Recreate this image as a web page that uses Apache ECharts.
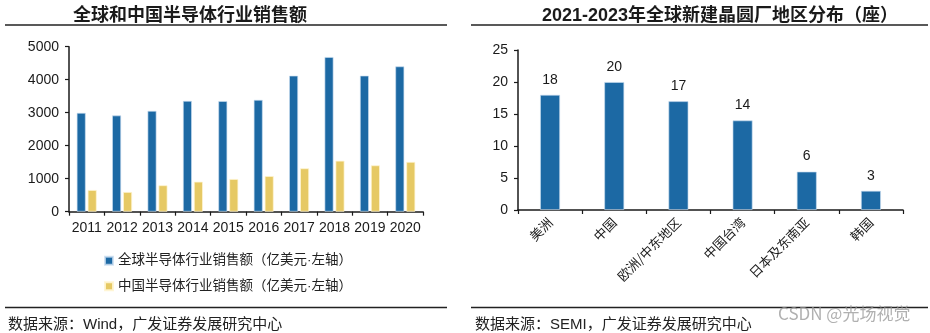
<!DOCTYPE html>
<html>
<head>
<meta charset="utf-8">
<script src="https://cdn.jsdelivr.net/npm/echarts@6/dist/echarts.min.js"></script>
<style>
  html, body { margin: 0; padding: 0; background: #fff; }
  #chart { width: 930px; height: 333px; }
</style>
</head>
<body>
<div id="chart"></div>
<script>
// Left panel: global vs. China semiconductor sales (100M USD)
const years = ['2011', '2012', '2013', '2014', '2015', '2016', '2017', '2018', '2019', '2020'];
const globalSales = [2995, 2916, 3056, 3358, 3352, 3389, 4122, 4688, 4123, 4404];
const chinaSales = [657, 598, 800, 910, 990, 1080, 1315, 1545, 1405, 1510];
const leftTicks = { min: 0, max: 5000, interval: 1000 };

// Right panel: new wafer fabs by region, 2021-2023
const regions = ['美洲', '中国', '欧洲/中东地区', '中国台湾', '日本及东南亚', '韩国'];
const fabCounts = [18, 20, 17, 14, 6, 3];
const rightTicks = { min: 0, max: 25, interval: 5 };

const BLUE = '#1C69A4';
const GOLD = '#E6C964';
const INK = '#1a1a1a';
const LATIN = '"Liberation Sans", Arial, sans-serif';
const MIXED = '"Liberation Sans", "Noto Sans CJK SC", sans-serif';
const CJK = '"Noto Sans CJK SC", sans-serif';

const chart = echarts.init(document.getElementById('chart'), null, { renderer: 'canvas' });

const valueAxis = (ticks, gridIndex) => ({
  type: 'value',
  gridIndex,
  min: ticks.min,
  max: ticks.max,
  interval: ticks.interval,
  axisLine: { show: true, lineStyle: { color: INK, width: 1.5 } },
  axisTick: { show: true, length: 4, lineStyle: { color: INK, width: 1.2 } },
  splitLine: { show: false },
  axisLabel: { color: INK, fontFamily: LATIN, fontSize: 14, margin: 10, formatter: v => String(v) }
});

chart.setOption({
  animation: false,
  backgroundColor: '#fff',
  title: [
    {
      text: '全球和中国半导体行业销售额',
      left: 185, top: 2, textAlign: 'center',
      textStyle: { fontFamily: MIXED, fontWeight: 'bold', fontSize: 18, color: INK }
    },
    {
      text: '2021-2023年全球新建晶圆厂地区分布（座）',
      left: 715, top: 2, textAlign: 'center',
      textStyle: { fontFamily: MIXED, fontWeight: 'bold', fontSize: 18, color: INK }
    },
    {
      text: '数据来源：Wind，广发证券发展研究中心',
      left: 3, top: 312,
      textStyle: { fontFamily: MIXED, fontWeight: 'normal', fontSize: 15, color: '#222' }
    },
    {
      text: '数据来源：SEMI，广发证券发展研究中心',
      left: 470, top: 312,
      textStyle: { fontFamily: MIXED, fontWeight: 'normal', fontSize: 15, color: '#222' }
    }
  ],
  legend: {
    orient: 'vertical',
    left: 99, top: 249,
    itemWidth: 8, itemHeight: 8, itemGap: 12,
    icon: 'rect',
    textStyle: { fontFamily: MIXED, fontSize: 13.5, color: '#222' },
    data: ['全球半导体行业销售额（亿美元·左轴）', '中国半导体行业销售额（亿美元·左轴）']
  },
  grid: [
    { left: 69, top: 46.7, width: 354, height: 165 },
    { left: 518, top: 50, width: 385, height: 160 }
  ],
  xAxis: [
    {
      type: 'category', gridIndex: 0, data: years,
      axisLine: { lineStyle: { color: INK, width: 1.5 } },
      axisTick: { show: true, length: 4, lineStyle: { color: INK, width: 1.2 } },
      axisLabel: { color: INK, fontFamily: LATIN, fontSize: 14, margin: 9, interval: 0 }
    },
    {
      type: 'category', gridIndex: 1, data: regions,
      axisLine: { lineStyle: { color: INK, width: 1.5 } },
      axisTick: { show: true, length: 4, lineStyle: { color: INK, width: 1.2 } },
      axisLabel: { color: INK, fontFamily: CJK, fontSize: 13, margin: 10, rotate: 45, interval: 0 }
    }
  ],
  yAxis: [valueAxis(leftTicks, 0), valueAxis(rightTicks, 1)],
  series: [
    {
      name: '全球半导体行业销售额（亿美元·左轴）',
      type: 'bar', xAxisIndex: 0, yAxisIndex: 0,
      data: globalSales, barWidth: 9, barGap: '22%',
      itemStyle: { color: BLUE, borderColor: 'rgba(200,220,240,0.8)', borderWidth: 0.8 }
    },
    {
      name: '中国半导体行业销售额（亿美元·左轴）',
      type: 'bar', xAxisIndex: 0, yAxisIndex: 0,
      data: chinaSales, barWidth: 9, barGap: '22%',
      itemStyle: { color: GOLD, borderColor: 'rgba(255,245,210,0.9)', borderWidth: 0.8 }
    },
    {
      name: '新建晶圆厂',
      type: 'bar', xAxisIndex: 1, yAxisIndex: 1,
      data: fabCounts, barWidth: 20,
      itemStyle: { color: BLUE, borderColor: 'rgba(200,220,240,0.8)', borderWidth: 0.8 },
      label: {
        show: true, position: 'top', distance: 8,
        color: INK, fontFamily: LATIN, fontSize: 14
      }
    }
  ],
  graphic: [
    { type: 'line', shape: { x1: 5, y1: 25, x2: 447, y2: 25 }, style: { stroke: '#222', lineWidth: 1.5 } },
    { type: 'line', shape: { x1: 471, y1: 25, x2: 928, y2: 25 }, style: { stroke: '#222', lineWidth: 1.5 } },
    { type: 'line', shape: { x1: 5, y1: 307.5, x2: 447, y2: 307.5 }, style: { stroke: '#222', lineWidth: 1.5 } },
    { type: 'line', shape: { x1: 471, y1: 307.5, x2: 928, y2: 307.5 }, style: { stroke: '#222', lineWidth: 1.5 } },
    {
      type: 'text', left: 778, top: 305, z: 100,
      style: { text: 'CSDN @光场视觉', font: '17px "Noto Sans CJK SC", sans-serif', fill: 'rgba(150,150,150,0.75)' }
    }
  ]
});
</script>
</body>
</html>
